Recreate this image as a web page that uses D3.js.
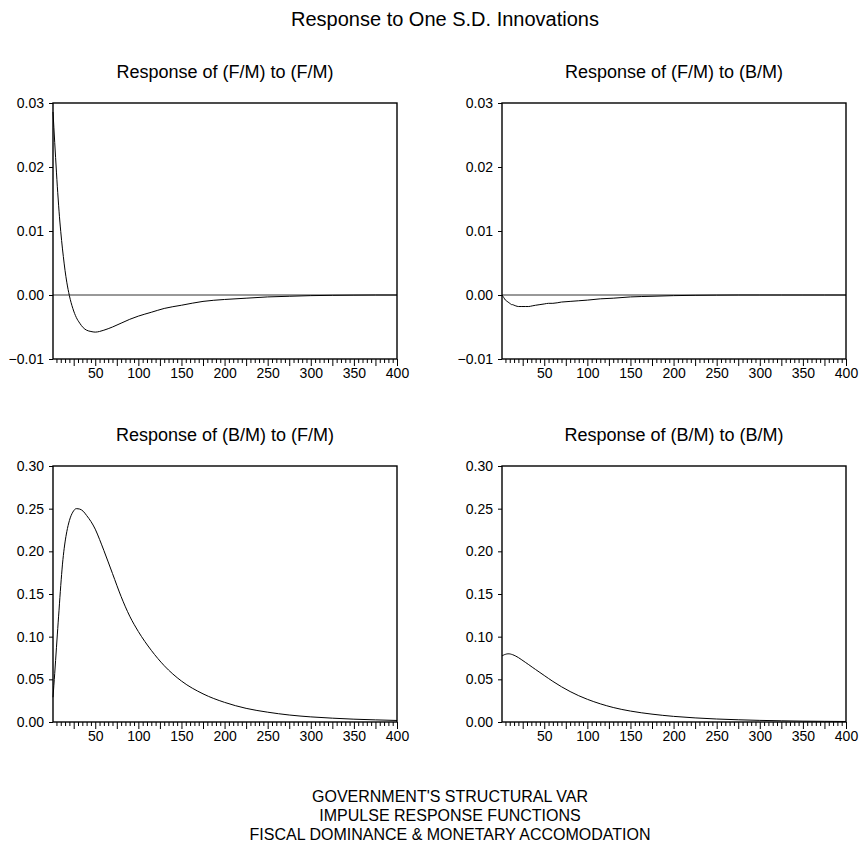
<!DOCTYPE html>
<html>
<head>
<meta charset="utf-8">
<script src="https://cdn.jsdelivr.net/npm/d3@7"></script>
<style>
  body { margin: 0; background: #fff; }
  svg { display: block; font-family: 'Liberation Sans', Arial, sans-serif; }
</style>
</head>
<body>
<svg></svg>
<script>
const periods = [1, 2, 3, 4, 5, 6, 7, 8, 9, 10, 11, 12, 13, 15, 17, 20, 24, 28, 32, 36, 40, 45, 50, 55, 60,
  70, 80, 90, 100, 115, 130, 150, 175, 200, 225, 250, 275, 300, 325, 350, 375, 400]

const fmToFm = [0.0286, 0.0262, 0.0238, 0.0215, 0.0192, 0.0170, 0.0150, 0.0131, 0.0114, 0.0099, 0.0085,
  0.0072, 0.0060, 0.0038, 0.0020, -0.0001, -0.0021, -0.0035, -0.0044, -0.0051, -0.0055, -0.0057, -0.0058,
  -0.0057, -0.0055, -0.0050, -0.0044, -0.0038, -0.0033, -0.0027, -0.0021, -0.0016, -0.0010, -0.0007,
  -0.0005, -0.0003, -0.0002, -0.0001, -0.00005, -0.00002, 0, 0]

const fmToBm = [0, -0.0002, -0.0004, -0.0006, -0.0008, -0.0009, -0.0010, -0.0011, -0.0012, -0.0013, -0.0014,
  -0.0015, -0.0015, -0.0016, -0.0017, -0.0018, -0.0018, -0.0018, -0.0018, -0.0017, -0.0016, -0.0015,
  -0.0014, -0.0013, -0.0013, -0.0011, -0.0010, -0.0009, -0.0008, -0.0006, -0.0005, -0.0003, -0.0002,
  -0.0001, -0.00005, -0.00002, 0, 0, 0, 0, 0, 0]

const bmToFm = [0.029, 0.043, 0.057, 0.072, 0.087, 0.102, 0.117, 0.131, 0.146, 0.160, 0.173, 0.185, 0.195,
  0.211, 0.223, 0.236, 0.246, 0.250, 0.2495, 0.247, 0.242, 0.235, 0.226, 0.214, 0.201, 0.174, 0.147, 0.124,
  0.106, 0.084, 0.066, 0.048, 0.033, 0.023, 0.016, 0.0115, 0.0082, 0.006, 0.0045, 0.0033, 0.0025, 0.0018]

const bmToBm = [0.0775, 0.0780, 0.0785, 0.0790, 0.0793, 0.0796, 0.0798, 0.0799, 0.0799, 0.0798, 0.0796,
  0.0793, 0.0790, 0.0782, 0.0772, 0.0755, 0.0728, 0.0700, 0.0672, 0.0643, 0.0615, 0.0580, 0.0545, 0.0510,
  0.0476, 0.0413, 0.0357, 0.0308, 0.0266, 0.0213, 0.0170, 0.0128, 0.0092, 0.0066, 0.0048, 0.0035, 0.0026,
  0.0019, 0.0014, 0.0010, 0.0008, 0.0006]

const panelTitles = ['Response of (F/M) to (F/M)', 'Response of (F/M) to (B/M)',
  'Response of (B/M) to (F/M)', 'Response of (B/M) to (B/M)']
const topTicks = [-0.01, 0.00, 0.01, 0.02, 0.03]
const bottomTicks = [0.00, 0.05, 0.10, 0.15, 0.20, 0.25, 0.30]
const xLabels = [50, 100, 150, 200, 250, 300, 350, 400]
const mainTitle = 'Response to One S.D. Innovations'
const footerLines = ["GOVERNMENT'S STRUCTURAL VAR", 'IMPULSE RESPONSE FUNCTIONS',
  'FISCAL DOMINANCE & MONETARY ACCOMODATION']

const width = 860
const height = 848
const pw = 344
const ph = 256

const svg = d3.select('svg')
  .attr('width', width)
  .attr('height', height)

const panels = [
  { title: panelTitles[0], values: fmToFm, left: 53, top: 103, ticks: topTicks, zero: true },
  { title: panelTitles[1], values: fmToBm, left: 502, top: 103, ticks: topTicks, zero: true },
  { title: panelTitles[2], values: bmToFm, left: 53, top: 466, ticks: bottomTicks, zero: false },
  { title: panelTitles[3], values: bmToBm, left: 502, top: 466, ticks: bottomTicks, zero: false }
]

svg.append('text')
  .text(mainTitle)
  .attr('x', 445)
  .attr('y', 26)
  .attr('text-anchor', 'middle')
  .style('font-size', '20px')

svg.selectAll('.footer')
  .data(footerLines)
  .enter()
  .append('text')
  .attr('class', 'footer')
  .text(d => d)
  .attr('x', 450)
  .attr('y', (d, i) => 802 + i * 19)
  .attr('text-anchor', 'middle')
  .style('font-size', '16px')

panels.forEach(p => {
  const g = svg.append('g')
    .attr('transform', `translate(${p.left}, ${p.top})`)

  const xScale = d3.scaleLinear()
    .domain([1, 400])
    .range([0, pw])

  const yScale = d3.scaleLinear()
    .domain(d3.extent(p.ticks))
    .range([ph, 0])

  g.append('text')
    .text(p.title)
    .attr('x', pw / 2)
    .attr('y', -25)
    .attr('text-anchor', 'middle')
    .style('font-size', '18px')

  // small ticks every 5, taller every 25
  g.append('g')
    .attr('transform', `translate(0, ${ph})`)
    .call(d3.axisBottom(xScale)
      .tickValues(d3.range(5, 401, 5).filter(v => v % 25 !== 0))
      .tickSize(4)
      .tickFormat(''))
  g.append('g')
    .attr('transform', `translate(0, ${ph})`)
    .call(d3.axisBottom(xScale)
      .tickValues(d3.range(25, 401, 25))
      .tickSize(7)
      .tickFormat(''))

  g.append('g')
    .attr('transform', `translate(0, ${ph})`)
    .call(d3.axisBottom(xScale)
      .tickValues(xLabels)
      .tickSize(0)
      .tickPadding(9)
      .tickFormat(d3.format('d')))

  g.append('g')
    .call(d3.axisLeft(yScale)
      .tickValues(p.ticks)
      .tickSize(4)
      .tickPadding(5)
      .tickFormat(d3.format('.2f')))

  g.selectAll('.domain').remove()
  g.selectAll('.tick line').attr('stroke', '#000')
  g.selectAll('.tick text')
    .attr('fill', '#000')
    .style('font-size', '14px')
    .style('font-family', "'Liberation Sans', Arial, sans-serif")

  if (p.zero) {
    g.append('line')
      .attr('x1', 0)
      .attr('x2', pw)
      .attr('y1', yScale(0))
      .attr('y2', yScale(0))
      .attr('stroke', '#333')
      .attr('stroke-width', 1)
  }

  const line = d3.line()
    .x((d, i) => xScale(periods[i]))
    .y(d => yScale(d))
    .curve(d3.curveMonotoneX)

  g.append('path')
    .datum(p.values)
    .attr('d', line)
    .attr('fill', 'none')
    .attr('stroke', '#000')
    .attr('stroke-width', 1)

  g.append('rect')
    .attr('x', 0)
    .attr('y', 0)
    .attr('width', pw)
    .attr('height', ph)
    .attr('fill', 'none')
    .attr('stroke', '#000')
    .attr('stroke-width', 1.4)
})
</script>
</body>
</html>
